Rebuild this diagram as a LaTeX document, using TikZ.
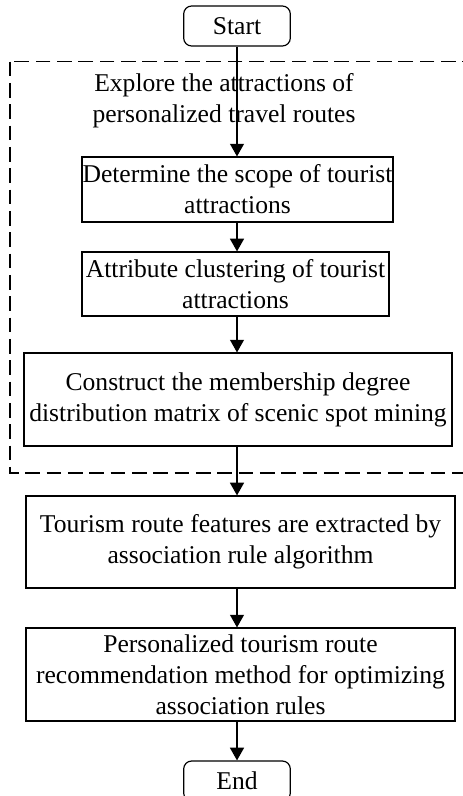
\documentclass[tikz,border=0pt]{standalone}
\usepackage{fontspec}
\setmainfont{Liberation Serif}
\usepackage{tikz}
\usetikzlibrary{arrows.meta, positioning, calc}
\tikzset{
  terminal/.style={
    rectangle, rounded corners=6pt, draw=black, line width=0.9pt,
    minimum width=80pt, minimum height=30pt, inner sep=0pt
  },
  stepbox/.style={
    rectangle, draw=black, line width=0.9pt,
    align=center, inner sep=0pt
  },
  title/.style={align=center, inner sep=0pt},
  group/.style={draw=black, line width=1pt, dash pattern=on 11pt off 5pt},
  arr/.style={-{Triangle[length=9.5pt, width=10.5pt]}, draw=black, line width=0.9pt}
}

\begin{document}
\begin{tikzpicture}[x=0.75pt, y=-0.75pt,
  font=\fontsize{19.2}{23.2}\selectfont]
  \useasboundingbox (0,0) rectangle (462,796);

  \draw[group] (10,61.5) rectangle (472,473);

  \node[terminal] (start) at (237,26) {Start};
  \node[title] (explore) at (224,101)
    {Explore the attractions of\\personalized travel routes};
  \node[stepbox, minimum width=233.2pt, minimum height=48.7pt]
    (scope) at (237.5,189.5) {Determine the scope of tourist\\attractions};
  \node[stepbox, minimum width=230.2pt, minimum height=48pt]
    (cluster) at (235.5,284) {Attribute clustering of tourist\\attractions};
  \node[stepbox, minimum width=321pt, minimum height=69.7pt]
    (member) at (238,399.5)
    {Construct the membership degree\\distribution matrix of scenic spot mining};
  \node[stepbox, minimum width=321.7pt, minimum height=69pt]
    (feature) at (240.5,542)
    {Tourism route features are extracted by\\association rule algorithm};
  \node[stepbox, minimum width=321.7pt, minimum height=69.7pt]
    (recommend) at (240.5,674.5)
    {Personalized tourism route\\recommendation method for optimizing\\association rules};
  \node[terminal] (stop) at (237,781) {End};

  \draw[arr] (start.south) -- (start.south |- scope.north);
  \draw[arr] (start.south |- scope.south) -- (start.south |- cluster.north);
  \draw[arr] (start.south |- cluster.south) -- (start.south |- member.north);
  \draw[arr] (start.south |- member.south) -- (start.south |- feature.north);
  \draw[arr] (start.south |- feature.south) -- (start.south |- recommend.north);
  \draw[arr] (start.south |- recommend.south) -- (stop.north);
\end{tikzpicture}
\end{document}
